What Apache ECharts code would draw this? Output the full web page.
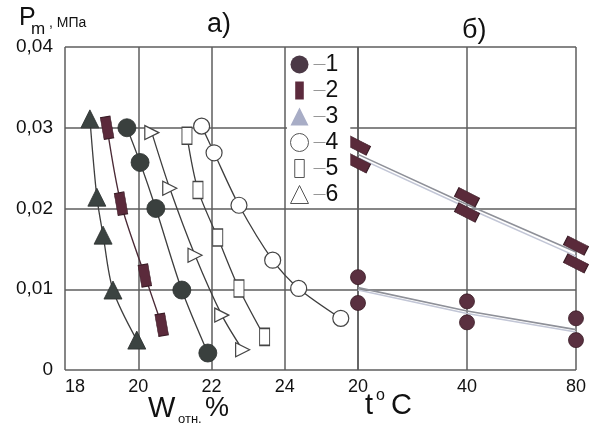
<!DOCTYPE html>
<html>
<head>
<meta charset="utf-8">
<script src="https://cdn.jsdelivr.net/npm/echarts@6/dist/echarts.min.js"></script>
<style>
  html, body { margin: 0; padding: 0; background: #fff; }
  #chart { width: 589px; height: 430px; }
</style>
</head>
<body>
<div id="chart"></div>
<script>
// панель а): Pm от W отн.
const w1 = [19.69, 20.05, 20.48, 21.19, 21.90];
const p1 = [0.0300, 0.0257, 0.0200, 0.0099, 0.0021];
const w2 = [19.15, 19.53, 20.18, 20.64];
const p2 = [0.0300, 0.0206, 0.0117, 0.0056];
const w3 = [18.68, 18.87, 19.04, 19.31, 19.96];
const p3 = [0.0311, 0.0214, 0.0167, 0.0099, 0.0037];
const w4 = [21.73, 22.07, 22.75, 23.67, 24.38, 25.53];
const p4 = [0.0302, 0.0269, 0.0204, 0.0136, 0.0101, 0.0064];
const w5 = [21.33, 21.63, 22.17, 22.75, 23.45];
const p5 = [0.0290, 0.0223, 0.0164, 0.0101, 0.0041];
const w6 = [20.37, 20.86, 21.55, 22.28, 22.85];
const p6 = [0.0294, 0.0225, 0.0142, 0.0068, 0.0025];

// панель б): Pm от t, C
const tempCats = ['20', '40', '80'];
const rectHi = [0.0278, 0.0214, 0.0154];
const rectLo = [0.0256, 0.0195, 0.0132];
const circHi = [0.0115, 0.0085, 0.0064];
const circLo = [0.0083, 0.0059, 0.0037];
const rectFitA = [0.0267, 0.0205, 0.0146];
const rectFitB = [0.0263, 0.0201, 0.0141];
const circFitA = [0.0102, 0.0073, 0.0050];
const circFitB = [0.0099, 0.0070, 0.0047];

const yTicks = [0, 0.01, 0.02, 0.03, 0.04];
const legendNames = ['1', '2', '3', '4', '5', '6'];

const font = 'Liberation Sans, Arial, sans-serif';
const gridColor = '#5e5e5e';
const curveColor = '#3e3e3e';

function zip(xs, ys) { return xs.map((x, i) => [x, ys[i]]); }

var chart = echarts.init(document.getElementById('chart'));

function curve(name, xs, ys, symbol, size, itemStyle, extra) {
    return Object.assign({
        name: name,
        type: 'line',
        xAxisIndex: 0,
        yAxisIndex: 0,
        data: zip(xs, ys),
        smooth: 0.3,
        symbol: symbol,
        symbolSize: size,
        lineStyle: { color: curveColor, width: 1.3 },
        itemStyle: itemStyle,
        emphasis: { disabled: true },
        animation: false
    }, extra || {});
}

function tempSeries(name, ys, opts) {
    return Object.assign({
        name: name,
        type: 'line',
        xAxisIndex: 1,
        yAxisIndex: 1,
        data: ys,
        clip: false,
        emphasis: { disabled: true },
        animation: false
    }, opts);
}

const openStyle = { color: '#fff', borderColor: '#444', borderWidth: 1.2 };

var option = {
    animation: false,
    grid: [
        { left: 65, top: 47, width: 293, height: 323 },
        { left: 358, top: 47, width: 220, height: 323 }
    ],
    xAxis: [
        {
            gridIndex: 0, type: 'value', min: 18, max: 26, interval: 2,
            axisLine: { show: false }, axisTick: { show: false },
            axisLabel: { fontSize: 18, fontFamily: font, color: '#111', margin: 8, showMaxLabel: false, alignMinLabel: 'left' },
            splitLine: { show: true, showMinLine: true, showMaxLine: true, lineStyle: { color: gridColor, width: 1.5 } }
        },
        {
            gridIndex: 1, type: 'category', data: tempCats, boundaryGap: false,
            axisLine: { show: false }, axisTick: { show: false },
            axisLabel: { fontSize: 18, fontFamily: font, color: '#111', margin: 8 },
            splitLine: { show: true, showMinLine: true, showMaxLine: true, lineStyle: { color: gridColor, width: 1.5 } }
        }
    ],
    yAxis: [
        {
            gridIndex: 0, type: 'value', min: yTicks[0], max: yTicks[yTicks.length - 1], interval: 0.01,
            axisLine: { show: false }, axisTick: { show: false },
            axisLabel: {
                fontSize: 19, fontFamily: font, color: '#111', margin: 12,
                formatter: v => v === 0 ? '0' : v.toFixed(2).replace('.', ',')
            },
            splitLine: { show: true, showMinLine: true, showMaxLine: true, lineStyle: { color: gridColor, width: 1.5 } }
        },
        {
            gridIndex: 1, type: 'value', min: 0, max: 0.04, interval: 0.01,
            axisLine: { show: false }, axisTick: { show: false },
            axisLabel: { show: false },
            splitLine: { show: true, showMinLine: true, showMaxLine: true, lineStyle: { color: gridColor, width: 1.5 } }
        }
    ],
    legend: {
        orient: 'vertical',
        left: 287,
        top: 50,
        padding: [3, 12, 2, 3],
        backgroundColor: '#fff',
        itemWidth: 18,
        itemHeight: 18,
        itemGap: 3,
        itemTextGap: 3,
        selectedMode: false,
        formatter: name => '{d|—}{n|' + name + '}',
        textStyle: {
            lineHeight: 18,
            rich: {
                d: { fontSize: 12, color: '#8a8a8a', fontFamily: font, lineHeight: 18 },
                n: { fontSize: 23, color: '#111', fontFamily: font, lineHeight: 18 }
            }
        },
        data: [
            { name: legendNames[0], icon: 'circle', itemStyle: { color: '#4b3946', borderWidth: 0 } },
            { name: legendNames[1], icon: 'path://M0,0h10v21h-10z', itemStyle: { color: '#5c2b3d', borderWidth: 0 } },
            { name: legendNames[2], icon: 'triangle', itemStyle: { color: '#a8adc6', borderWidth: 0 } },
            { name: legendNames[3], icon: 'circle', itemStyle: { color: '#fff', borderColor: '#555', borderWidth: 1 } },
            { name: legendNames[4], icon: 'path://M0,0h10v19h-10z', itemStyle: { color: '#fff', borderColor: '#555', borderWidth: 1 } },
            { name: legendNames[5], icon: 'triangle', itemStyle: { color: '#fff', borderColor: '#555', borderWidth: 1 } }
        ]
    },
    graphic: [
        { type: 'text', left: 19, top: 6, style: { text: 'P', font: '25px ' + font, fill: '#111' } },
        { type: 'text', left: 31, top: 21, style: { text: 'm', font: '17px ' + font, fill: '#111' } },
        { type: 'text', left: 49, top: 16, style: { text: ', МПа', font: '14px ' + font, fill: '#111' } },
        { type: 'text', left: 207, top: 11, style: { text: 'а)', font: '27px ' + font, fill: '#111' } },
        { type: 'text', left: 462, top: 17, style: { text: 'б)', font: '27px ' + font, fill: '#111' } },
        { type: 'text', left: 148, top: 394, style: { text: 'W', font: '29px ' + font, fill: '#111' } },
        { type: 'text', left: 178, top: 413, style: { text: 'отн.', font: '13px ' + font, fill: '#111' } },
        { type: 'text', left: 205, top: 395, style: { text: '%', font: '27px ' + font, fill: '#111' } },
        { type: 'text', left: 365, top: 391, style: { text: 't', font: '29px ' + font, fill: '#111' } },
        { type: 'text', left: 376, top: 388, style: { text: 'o', font: '16px ' + font, fill: '#111' } },
        { type: 'text', left: 391, top: 391, style: { text: 'C', font: '29px ' + font, fill: '#111' } }
    ],
    series: [
        curve('1', w1, p1, 'circle', 18, { color: '#3a403e', borderColor: '#2a2e2d', borderWidth: 0.8 }),
        curve('2', w2, p2, 'rect', [10, 22], { color: '#5b2a3b', borderColor: '#3a1c26', borderWidth: 0.8 },
            { lineStyle: { color: '#4a2a36', width: 1.4 }, symbolRotate: 10 }),
        curve('3', w3, p3, 'triangle', 18, { color: '#3b4341', borderColor: '#2a2e2d', borderWidth: 0.8 }),
        curve('4', w4, p4, 'circle', 16, openStyle),
        curve('5', w5, p5, 'rect', [10, 17], openStyle),
        curve('6', w6, p6, 'triangle', [14, 14], openStyle, { symbolRotate: -90 }),

        // линии аппроксимации на панели б)
        tempSeries('fitA', rectFitA, { symbol: 'none', lineStyle: { color: '#8e9098', width: 1.6 }, z: 1 }),
        tempSeries('fitB', rectFitB, { symbol: 'none', lineStyle: { color: '#c2c6d6', width: 1.6 }, z: 1 }),
        tempSeries('fitC', circFitA, { symbol: 'none', lineStyle: { color: '#8e9098', width: 1.6 }, z: 1 }),
        tempSeries('fitD', circFitB, { symbol: 'none', lineStyle: { color: '#c2c6d6', width: 1.6 }, z: 1 }),

        tempSeries('2', rectHi, { symbol: 'rect', symbolSize: [23, 10], symbolRotate: -27, lineStyle: { width: 0 },
            itemStyle: { color: '#5a2a3a', borderColor: '#3a1c26', borderWidth: 0.8 } }),
        tempSeries('2', rectLo, { symbol: 'rect', symbolSize: [23, 10], symbolRotate: -27, lineStyle: { width: 0 },
            itemStyle: { color: '#5a2a3a', borderColor: '#3a1c26', borderWidth: 0.8 } }),
        tempSeries('1', circHi, { symbol: 'circle', symbolSize: 15, lineStyle: { width: 0 },
            itemStyle: { color: '#5a3040', borderColor: '#3a1c26', borderWidth: 0.8 } }),
        tempSeries('1', circLo, { symbol: 'circle', symbolSize: 15, lineStyle: { width: 0 },
            itemStyle: { color: '#5a3040', borderColor: '#3a1c26', borderWidth: 0.8 } })
    ]
};

option && chart.setOption(option);
</script>
</body>
</html>
